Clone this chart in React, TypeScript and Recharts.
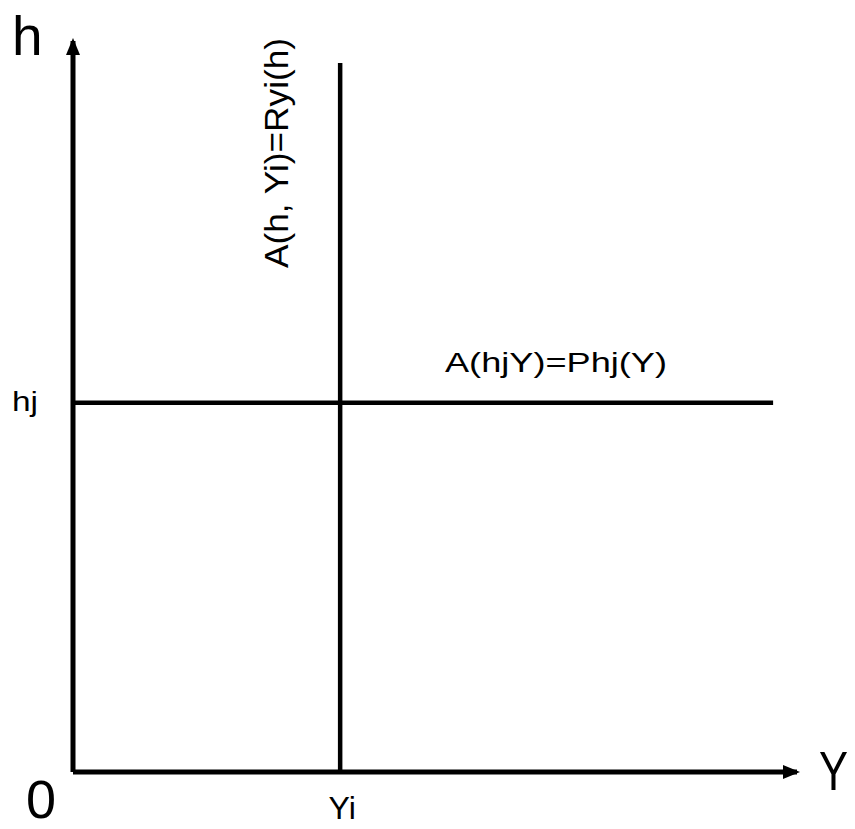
import { ComposedChart, XAxis, YAxis, ReferenceLine, Label } from 'recharts';

// value positions (axes run 0..10)
const xDomain = [0, 10];
const yDomain = [0, 10];
const yiValue = 3.69;
const hjValue = 5.05;
const verticalTop = 9.7;
const horizontalEnd = 9.67;

const xTicks = [yiValue];
const xTickLabels = ['Yi'];
const yTicks = [hjValue];
const yTickLabels = ['hj'];

const verticalSegment = [
  { x: yiValue, y: 0 },
  { x: yiValue, y: verticalTop },
];
const horizontalSegment = [
  { x: 0, y: hjValue },
  { x: horizontalEnd, y: hjValue },
];

const FONT = '"Liberation Sans", Arial, sans-serif';

const XTick = (props: any) => {
  const { x, y, index } = props;
  return (
    <text x={x + 2} y={y} dy={47} textAnchor="middle" fontSize={32} fontFamily={FONT} fill="#000">
      {xTickLabels[index]}
    </text>
  );
};

const YTick = (props: any) => {
  const { x, y, index } = props;
  return (
    <text x={x - 35} y={y} dy={8} textAnchor="end" fontSize={27} fontFamily={FONT} fill="#000" textLength={26} lengthAdjust="spacingAndGlyphs">
      {yTickLabels[index]}
    </text>
  );
};

export default function App() {
  return (
    <div style={{ position: 'absolute', left: 0, top: 0, width: 855, height: 829, background: '#fff' }}>
      <svg width={0} height={0} style={{ position: 'absolute' }}>
        <defs>
          <marker id="arrowHead" viewBox="0 0 17 14" markerWidth={17} markerHeight={14} refX={14} refY={7} markerUnits="userSpaceOnUse" orient="auto-start-reverse">
            <path d="M0,0 L17,7 L0,14 z" fill="#000" />
          </marker>
        </defs>
      </svg>
      <ComposedChart width={855} height={829} margin={{ top: 41, right: 58, bottom: 56, left: 72 }}>
        <XAxis
          type="number"
          dataKey="x"
          domain={xDomain}
          allowDataOverflow
          height={1}
          ticks={xTicks}
          tickLine={false}
          tickSize={0}
          tickMargin={0}
          tick={<XTick />}
          axisLine={{ stroke: '#000', strokeWidth: 5, markerEnd: 'url(#arrowHead)' }}
        >
          <Label
            content={({ viewBox }: any) => (
              <g>
                <text x={viewBox.x + viewBox.width + 22} y={viewBox.y + 18} fontSize={56} fontFamily={FONT} fill="#000" textLength={29} lengthAdjust="spacingAndGlyphs">
                  Y
                </text>
                <text x={viewBox.x - 47} y={viewBox.y + 46} fontSize={54} fontFamily={FONT} fill="#000">
                  0
                </text>
              </g>
            )}
          />
        </XAxis>
        <YAxis
          type="number"
          dataKey="y"
          domain={yDomain}
          allowDataOverflow
          width={1}
          ticks={yTicks}
          tickLine={false}
          tickSize={0}
          tickMargin={0}
          tick={<YTick />}
          axisLine={{ stroke: '#000', strokeWidth: 5, markerStart: 'url(#arrowHead)' }}
        >
          <Label
            content={({ viewBox }: any) => (
              <text x={viewBox.x + viewBox.width - 61} y={viewBox.y + 14} fontSize={55} fontFamily={FONT} fill="#000">
                h
              </text>
            )}
          />
        </YAxis>
        <ReferenceLine segment={verticalSegment} stroke="#000" strokeWidth={4.5}>
          <Label
            content={({ viewBox }: any) => {
              const tx = viewBox.x - 52;
              const ty = viewBox.y + 205;
              return (
                <text x={tx} y={ty} transform={`rotate(-90, ${tx}, ${ty})`} fontSize={34} fontFamily={FONT} fill="#000" textLength={230} lengthAdjust="spacingAndGlyphs">
                  A(h, Yi)=Ryi(h)
                </text>
              );
            }}
          />
        </ReferenceLine>
        <ReferenceLine segment={horizontalSegment} stroke="#000" strokeWidth={4.5}>
          <Label
            content={({ viewBox }: any) => (
              <text x={viewBox.x + 372} y={viewBox.y - 31} fontSize={27} fontFamily={FONT} fill="#000" textLength={222} lengthAdjust="spacingAndGlyphs">
                A(hjY)=Phj(Y)
              </text>
            )}
          />
        </ReferenceLine>
      </ComposedChart>
    </div>
  );
}
